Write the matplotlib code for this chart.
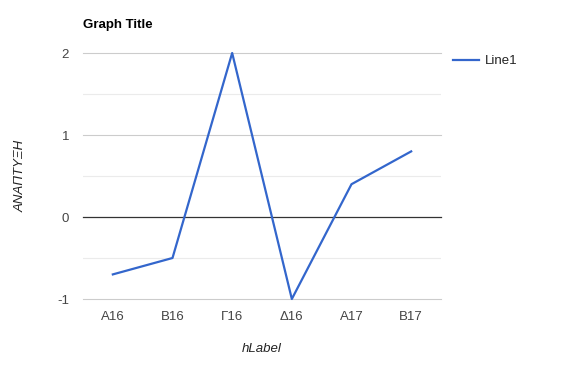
import matplotlib
matplotlib.use("Agg")
import matplotlib.pyplot as plt

categories = ["Α16", "Β16", "Γ16", "Δ16", "Α17", "Β17"]
line1 = [-0.7, -0.5, 2.0, -1.0, 0.4, 0.8]
yticks = [-1, 0, 1, 2]
minor_yticks = [-0.5, 0.5, 1.5]

plt.rcParams["font.family"] = ["Liberation Sans", "DejaVu Sans"]
LINE_COL = "#3366cc"
TXT_COL = "#444444"

fig = plt.figure(figsize=(5.64, 3.73), dpi=100, facecolor="white")
ax = fig.add_axes([83 / 564, 74 / 373, 358 / 564, 246 / 373])

x = list(range(len(categories)))
for v in minor_yticks:
    ax.axhline(v, color="#ebebeb", lw=0.8, zorder=0)
for v in yticks:
    if v == 0:
        ax.axhline(v, color="#333333", lw=0.9, zorder=1, clip_on=False)
    else:
        ax.axhline(v, color="#cccccc", lw=0.8, zorder=0, clip_on=False)

ax.plot(x, line1, color=LINE_COL, lw=1.6, label="Line1", zorder=3, clip_on=False)

ax.set_xlim(-0.5, len(categories) - 0.5)
ax.set_ylim(-1, 2)
ax.set_xticks(x)
ax.set_xticklabels(categories)
ax.set_yticks(yticks)
ax.set_yticklabels([str(v) for v in yticks])
ax.tick_params(length=0, labelsize=9.5, colors=TXT_COL)
ax.tick_params(axis="y", pad=10)
ax.tick_params(axis="x", pad=9)
for s in ax.spines.values():
    s.set_visible(False)

ax.set_xlabel("hLabel", style="italic", fontsize=9.5, color="#222222", labelpad=14)
ax.set_ylabel("ΑΝΑΠΤΥΞΗ", style="italic", fontsize=9.5, color="#222222", labelpad=22)

fig.text(83 / 564, 1 - 25 / 373, "Graph Title", fontsize=9.5, fontweight="bold",
         color="#000000", ha="left", va="center")

ax.legend(loc="upper left", bbox_to_anchor=(1.0, 1.04), frameon=False,
          fontsize=9.5, handlelength=2.0, handletextpad=0.4, labelcolor="#222222")

fig.savefig("out.png", dpi=100, facecolor="white")
